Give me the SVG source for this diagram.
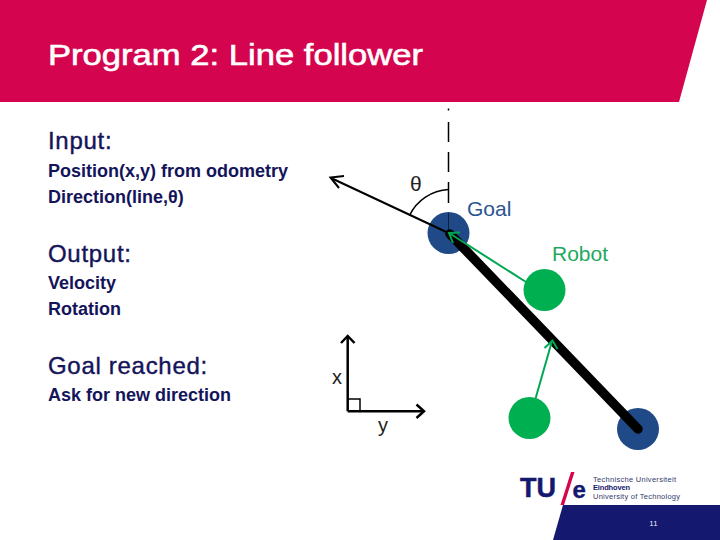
<svg xmlns="http://www.w3.org/2000/svg" width="720" height="540" viewBox="0 0 720 540">
<defs>
<style>
text{font-family:"Liberation Sans",Arial,sans-serif}
.head{font-size:24px;fill:#14145a;stroke:#14145a;stroke-width:.4px;letter-spacing:.7px}
.body{font-size:18px;font-weight:bold;fill:#14145a}
.lab{font-size:20px;fill:#222}
.ln{fill:none;stroke:#000;stroke-width:2}
.thin{stroke-width:1.5}
.ax{stroke-width:2.500}
.gn{fill:none;stroke:#00a651;stroke-width:2}
.small{font-size:7.500px;fill:#333a6e}
</style>
</defs>
<rect width="720" height="540" fill="#fff"/>
<g id="header">
<polygon points="0,0 707,0 679,102 0,102" fill="#d4054e"/>
<text x="48" y="65" font-size="30" fill="#fff" stroke="#fff" stroke-width=".6" textLength="375" lengthAdjust="spacingAndGlyphs">Program 2: Line follower</text>
</g>
<g id="text-block">
<text class="head" x="48" y="149">Input:</text>
<text class="body" x="48" y="177">Position(x,y) from odometry</text>
<text class="body" x="48" y="203">Direction(line,θ)</text>
<text class="head" x="48" y="262">Output:</text>
<text class="body" x="48" y="289">Velocity</text>
<text class="body" x="48" y="315">Rotation</text>
<text class="head" x="48" y="374">Goal reached:</text>
<text class="body" x="48" y="401">Ask for new direction</text>
</g>
<g id="node-goal-top"><circle cx="448.500" cy="233" r="21" fill="#204a87"/></g>
<g id="node-goal-bottom"><circle cx="638" cy="429" r="21" fill="#204a87"/></g>
<g id="node-robot-top"><circle cx="544.500" cy="290" r="21" fill="#00b050"/></g>
<g id="node-robot-bottom"><circle cx="529.500" cy="418" r="21" fill="#00b050"/></g>
<g id="connectors">
<path d="M448.500 108.500V110.500M448.500 122V142M448.500 152V172M448.500 182V203" class="ln thin"/>
<path d="M448.500 213V233" fill="none" stroke="#0b1f3f" stroke-width="1"/>
<path d="M409.500 215.500A46 46 0 0 1 448.500 189.500" class="ln thin"/>
<path d="M448.500 233L331 178" class="ln"/>
<path d="M339 188L330.500 177.500L344 176" class="ln"/>
<path d="M450 234L638 429" fill="none" stroke="#000" stroke-width="9.500" stroke-linecap="round"/>
<path d="M526 282L449 233" class="gn"/>
<path d="M453 243L449 233L460 232.500" class="gn"/>
<path d="M535.700 398L552 341" class="gn"/>
<path d="M544.500 348L552.500 340.500L557.500 349" class="gn"/>
<path d="M347.700 411.300V337" class="ln ax"/>
<path d="M341 343L347.700 336L354.500 343" class="ln ax"/>
<path d="M347.700 411.300H423" class="ln ax"/>
<path d="M416.500 404.500L424 411.300L416.500 418" class="ln ax"/>
<path d="M348 399H360V411" class="ln thin"/>
</g>
<g id="labels">
<text x="410" y="191" font-size="21" fill="#222">θ</text>
<text x="467" y="216" font-size="21" fill="#2a5590">Goal</text>
<text x="552" y="261" font-size="21" fill="#1fa860">Robot</text>
<text class="lab" x="332" y="384">x</text>
<text class="lab" x="378" y="432">y</text>
</g>
<g id="footer">
<polygon points="563,505 720,505 720,540 553,540" fill="#14186e"/>
<polygon points="571,472 574.500,472 564,505 560.500,505" fill="#d4054e"/>
<text x="520" y="497" font-size="28" font-weight="bold" fill="#14186e" stroke="#14186e" stroke-width=".5" textLength="36" lengthAdjust="spacingAndGlyphs">TU</text>
<text x="572.500" y="498" font-size="24" font-weight="bold" fill="#14186e" stroke="#14186e" stroke-width=".4">e</text>
<text class="small" x="593" y="481.500" textLength="83" lengthAdjust="spacing">Technische Universiteit</text>
<text class="small" x="593" y="490" font-weight="bold" textLength="37" lengthAdjust="spacing" style="fill:#14186e">Eindhoven</text>
<text class="small" x="593" y="498.500" textLength="87" lengthAdjust="spacing">University of Technology</text>
<text x="649.500" y="526" font-size="7" fill="#fff" textLength="8" lengthAdjust="spacing">11</text>
</g>
</svg>
